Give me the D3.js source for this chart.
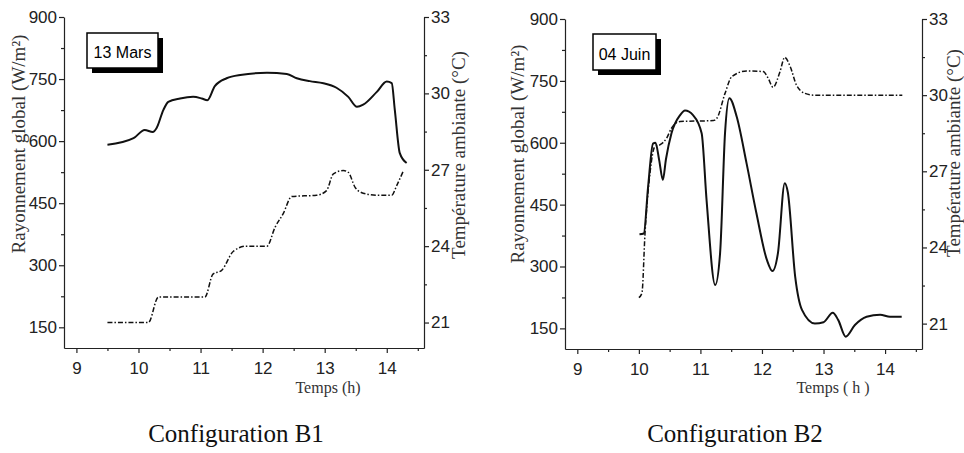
<!DOCTYPE html>
<html>
<head>
<meta charset="utf-8">
<script src="https://cdn.jsdelivr.net/npm/d3@7"></script>
<style>
  body { margin: 0; background: #fff; }
  svg { display: block; }
  .tick text { font-family: "Liberation Sans", Arial, sans-serif; font-size: 17px; fill: #222; }
  .domain, .tick line { stroke: #222; stroke-width: 1.2; }
  .serif { font-family: "Liberation Serif", "Times New Roman", serif; fill: #333; }
</style>
</head>
<body>
<svg id="chart" width="964" height="453"></svg>
<script>
// tick values
var hourTicks = [9, 10, 11, 12, 13, 14];
var hourMinor = [9.5, 10.5, 11.5, 12.5, 13.5, 14.5];
var radTicks = [150, 300, 450, 600, 750, 900];
var radMinor = [225, 375, 525, 675, 825];
var tempTicks = [21, 24, 27, 30, 33];
var tempMinor = [22.5, 25.5, 28.5, 31.5];

// Configuration B1 - 13 Mars  [heure, valeur]
var b1Rad = [[9.5, 591], [9.92, 607], [10.1, 627], [10.23, 622], [10.29, 631], [10.4, 675],
  [10.48, 695], [10.67, 703], [10.88, 707], [11.02, 703], [11.11, 699], [11.23, 733],
  [11.42, 752], [11.64, 760], [12.07, 765], [12.39, 762], [12.55, 752], [12.76, 745],
  [12.98, 740], [13.19, 729], [13.38, 707], [13.52, 683], [13.62, 688], [13.84, 719],
  [14.0, 744], [14.08, 740], [14.13, 675], [14.21, 571], [14.32, 547]];
var b1Temp = [[9.5, 21], [10.16, 21], [10.32, 22], [11.07, 22], [11.2, 22.9], [11.34, 23.05],
  [11.53, 23.8], [11.74, 24], [12.07, 24], [12.2, 24.74], [12.33, 25.27], [12.47, 25.95],
  [12.87, 26], [13.03, 26.18], [13.14, 26.84], [13.3, 26.97], [13.38, 26.9], [13.49, 26.31],
  [13.62, 26.08], [13.84, 26], [14.08, 26], [14.16, 26.38], [14.27, 26.97]];

// Configuration B2 - 04 Juin
var b2Rad = [[10.01, 378], [10.08, 380], [10.15, 493], [10.23, 598], [10.27, 600], [10.33, 558],
  [10.39, 510], [10.44, 560], [10.53, 623], [10.67, 667], [10.75, 678], [10.88, 667],
  [11.02, 623], [11.1, 461], [11.24, 255], [11.32, 333], [11.4, 624], [11.47, 708],
  [11.59, 663], [11.75, 550], [11.91, 429], [12.08, 316], [12.17, 289], [12.26, 333],
  [12.37, 502], [12.42, 480], [12.54, 275], [12.65, 195], [12.86, 162], [13.0, 165],
  [13.15, 188], [13.24, 170], [13.36, 130], [13.51, 158], [13.7, 178], [13.92, 183],
  [14.08, 178], [14.27, 178]];
var b2Temp = [[10.0, 22.02], [10.05, 22.2], [10.1, 24.56], [10.18, 26.92], [10.26, 27.97],
  [10.34, 28.04], [10.45, 28.3], [10.53, 28.7], [10.67, 28.96], [11.21, 29.0], [11.27, 29.1],
  [11.4, 30.07], [11.51, 30.73], [11.75, 30.95], [12.02, 30.93], [12.1, 30.67], [12.18, 30.31],
  [12.29, 30.9], [12.37, 31.49], [12.46, 31.12], [12.56, 30.4], [12.7, 30.07], [12.85, 30.0],
  [14.28, 30.0]];

var svg = d3.select("#chart");

function panel(c) {
  var x = d3.scaleLinear().domain([8.8, 14.6]).range([c.left, c.right]);
  var yR = d3.scaleLinear().domain([100, 900]).range([c.bottom, c.top]);
  var yT = d3.scaleLinear().domain([20, 33]).range([c.bottom, c.top]);
  var g = svg.append("g");

  // minor ticks first
  g.append("g").attr("transform", "translate(0," + c.bottom + ")")
    .call(d3.axisBottom(x).tickValues(hourMinor).tickSize(3).tickFormat(""))
    .select(".domain").remove();
  g.append("g").attr("transform", "translate(" + c.left + ",0)")
    .call(d3.axisLeft(yR).tickValues(radMinor).tickSize(3).tickFormat(""))
    .select(".domain").remove();
  g.append("g").attr("transform", "translate(" + c.right + ",0)")
    .call(d3.axisRight(yT).tickValues(tempMinor).tickSize(3).tickFormat(""))
    .select(".domain").remove();

  g.append("g").attr("transform", "translate(0," + c.bottom + ")")
    .call(d3.axisBottom(x).tickValues(hourTicks).tickFormat(d3.format("d"))
      .tickSize(5).tickSizeOuter(0).tickPadding(9));
  g.append("g").attr("transform", "translate(" + c.left + ",0)")
    .call(d3.axisLeft(yR).tickValues(radTicks).tickSize(5).tickSizeOuter(0).tickPadding(2));
  g.append("g").attr("transform", "translate(" + c.right + ",0)")
    .call(d3.axisRight(yT).tickValues(tempTicks).tickSize(5).tickSizeOuter(0).tickPadding(2));

  var lineR = d3.line().x(function (d) { return x(d[0]); }).y(function (d) { return yR(d[1]); })
    .curve(d3.curveMonotoneX);
  var lineT = d3.line().x(function (d) { return x(d[0]); }).y(function (d) { return yT(d[1]); })
    .curve(d3.curveMonotoneX);

  g.append("path").datum(c.temp).attr("d", lineT)
    .attr("fill", "none").attr("stroke", "#111").attr("stroke-width", 1.5)
    .attr("stroke-dasharray", "5,2,1.5,2");
  g.append("path").datum(c.rad).attr("d", lineR)
    .attr("fill", "none").attr("stroke", "#111").attr("stroke-width", 2);

  // date box with shadow
  var b = c.box;
  g.append("rect").attr("x", b[0] + 5).attr("y", b[1] + 5).attr("width", b[2]).attr("height", b[3])
    .attr("fill", "#000");
  g.append("rect").attr("x", b[0]).attr("y", b[1]).attr("width", b[2]).attr("height", b[3])
    .attr("fill", "#fff").attr("stroke", "#000").attr("stroke-width", 1.5);
  g.append("text").attr("x", b[0] + b[2] / 2).attr("y", b[1] + b[3] - 10)
    .attr("text-anchor", "middle")
    .style("font-family", "'Liberation Sans', Arial, sans-serif").style("font-size", "16px")
    .text(c.date);

  // axis titles
  g.append("text").attr("class", "serif")
    .attr("transform", "translate(" + c.leftTitle[0] + "," + c.leftTitle[1] + ") rotate(-90)")
    .attr("text-anchor", "middle").style("font-size", "19px")
    .text("Rayonnement global (W/m²)");
  g.append("text").attr("class", "serif")
    .attr("transform", "translate(" + c.rightTitle[0] + "," + c.rightTitle[1] + ") rotate(-90)")
    .attr("text-anchor", "middle").style("font-size", "19px")
    .text("Température ambiante (°C)");
  g.append("text").attr("class", "serif")
    .attr("x", c.timeTitle[0]).attr("y", c.timeTitle[1])
    .attr("text-anchor", "middle").style("font-size", "16px")
    .text(c.timeLabel);

  svg.append("text").attr("x", c.caption[0]).attr("y", c.caption[1])
    .attr("text-anchor", "middle")
    .style("font-family", "'Liberation Serif', 'Times New Roman', serif")
    .style("font-size", "25px").style("fill", "#111")
    .text(c.captionText);
}

panel({
  left: 64, right: 424, top: 17, bottom: 348,
  rad: b1Rad, temp: b1Temp, date: "13 Mars", box: [87, 33, 71, 35],
  leftTitle: [25, 144], rightTitle: [465, 155], timeTitle: [328, 393], timeLabel: "Temps (h)",
  caption: [236, 442], captionText: "Configuration B1"
});
panel({
  left: 565, right: 922, top: 19, bottom: 349,
  rad: b2Rad, temp: b2Temp, date: "04 Juin", box: [593, 34, 63, 36],
  leftTitle: [524, 154], rightTitle: [960, 153], timeTitle: [833, 393], timeLabel: "Temps ( h )",
  caption: [735, 442], captionText: "Configuration B2"
});
</script>
</body>
</html>
